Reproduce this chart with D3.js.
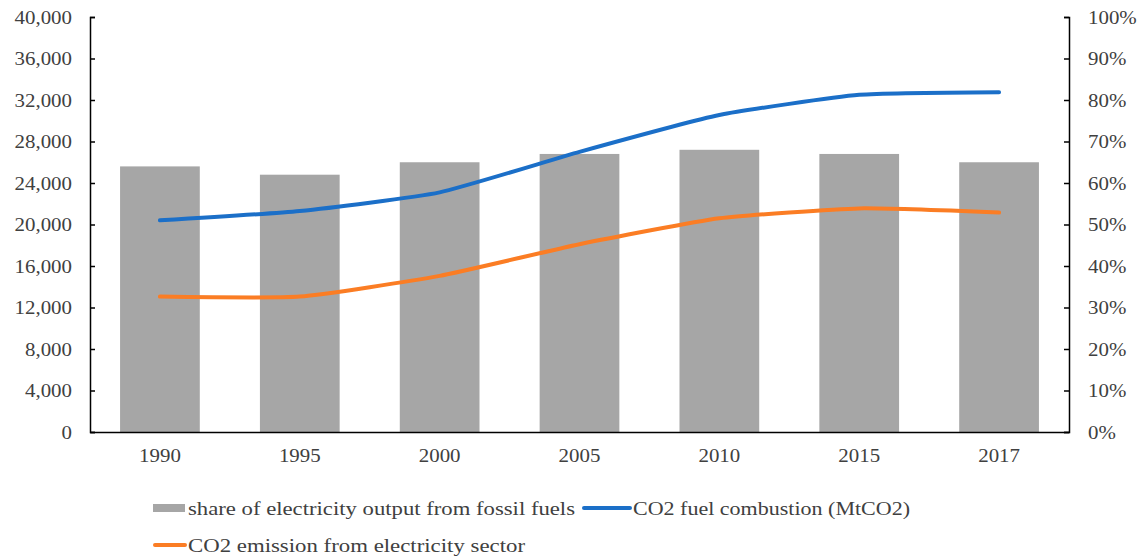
<!DOCTYPE html>
<html>
<head>
<meta charset="utf-8">
<script src="https://cdn.jsdelivr.net/npm/d3@7"></script>
<style>
  body { margin: 0; background: #fff; }
  text { font-family: "Liberation Serif", "Times New Roman", serif; }
</style>
</head>
<body>
<div id="chart"></div>
<script>
// data
var years = ['1990', '1995', '2000', '2005', '2010', '2015', '2017'];
var fossilShare = [0.64, 0.62, 0.65, 0.67, 0.68, 0.67, 0.65];
var co2Fuel = [20400, 21300, 23100, 27000, 30550, 32500, 32750];
var co2Elec = [13050, 13050, 15050, 18100, 20600, 21550, 21150];
var leftTicks = [0, 4000, 8000, 12000, 16000, 20000, 24000, 28000, 32000, 36000, 40000];
var rightTicks = [0, 0.1, 0.2, 0.3, 0.4, 0.5, 0.6, 0.7, 0.8, 0.9, 1];

const width = 1142;
const height = 558;
const plotLeft = 90, plotRight = 1069, plotTop = 17, plotBottom = 432;
const textColor = '#404040';

const svg = d3.select('#chart')
    .append('svg')
    .attr('width', width)
    .attr('height', height);

var x = d3.scaleBand()
    .domain(years)
    .range([plotLeft, plotRight])
    .paddingInner(0.43)
    .paddingOuter(0.215);

var yLeft = d3.scaleLinear()
    .domain([0, 40000])
    .range([plotBottom, plotTop]);

var yRight = d3.scaleLinear()
    .domain([0, 1])
    .range([plotBottom, plotTop]);

// bars (right axis)
svg.selectAll('rect.bar')
    .data(fossilShare)
    .enter()
    .append('rect')
    .attr('class', 'bar')
    .attr('x', function(d, i) { return x(years[i]); })
    .attr('y', function(d) { return yRight(d); })
    .attr('width', x.bandwidth())
    .attr('height', function(d) { return plotBottom - yRight(d); })
    .attr('fill', '#a6a6a6');

// lines (left axis)
var line = d3.line()
    .x(function(d, i) { return x(years[i]) + x.bandwidth() / 2; })
    .y(function(d) { return yLeft(d); })
    .curve(d3.curveCardinal.tension(0.5));

svg.append('path')
    .datum(co2Fuel)
    .attr('d', line)
    .attr('fill', 'none')
    .attr('stroke', '#1b6fc8')
    .attr('stroke-width', 4)
    .attr('stroke-linecap', 'round');

svg.append('path')
    .datum(co2Elec)
    .attr('d', line)
    .attr('fill', 'none')
    .attr('stroke', '#fb7d24')
    .attr('stroke-width', 4)
    .attr('stroke-linecap', 'round');

// axes
var gl = svg.append('g')
    .attr('transform', 'translate(' + plotLeft + ',0)')
    .call(d3.axisLeft(yLeft).tickValues(leftTicks).tickFormat(d3.format(','))
        .tickSize(-5).tickPadding(18));

var gr = svg.append('g')
    .attr('transform', 'translate(' + plotRight + ',0)')
    .call(d3.axisRight(yRight).tickValues(rightTicks).tickFormat(d3.format('.0%'))
        .tickSize(-5).tickPadding(19));

var gb = svg.append('g')
    .attr('transform', 'translate(0,' + plotBottom + ')')
    .call(d3.axisBottom(x).tickSize(0).tickPadding(17));

[gl, gr, gb].forEach(function(g) {
    g.selectAll('path, line').attr('stroke', '#000').attr('stroke-width', 1.5);
    g.selectAll('text')
        .attr('fill', textColor)
        .style('font-size', '19px')
        .style('font-family', '"Liberation Serif", serif')
        .each(function() {
            // the original font is a bit wider than Liberation Serif
            var len = this.getComputedTextLength();
            d3.select(this).attr('textLength', len * 1.1).attr('lengthAdjust', 'spacingAndGlyphs');
        });
});

// legend
var legend = svg.append('g');
legend.append('rect')
    .attr('x', 153).attr('y', 504).attr('width', 32).attr('height', 8)
    .attr('fill', '#a6a6a6');
legend.append('text')
    .attr('x', 188).attr('y', 508).attr('dy', '0.35em')
    .attr('fill', textColor).style('font-size', '19px')
    .attr('textLength', 387).attr('lengthAdjust', 'spacingAndGlyphs')
    .text('share of electricity output from fossil fuels');

legend.append('line')
    .attr('x1', 584).attr('x2', 630).attr('y1', 508).attr('y2', 508)
    .attr('stroke', '#1b6fc8').attr('stroke-width', 4).attr('stroke-linecap', 'round');
legend.append('text')
    .attr('x', 633).attr('y', 508).attr('dy', '0.35em')
    .attr('fill', textColor).style('font-size', '19px')
    .attr('textLength', 277).attr('lengthAdjust', 'spacingAndGlyphs')
    .text('CO2 fuel combustion (MtCO2)');

legend.append('line')
    .attr('x1', 155).attr('x2', 185).attr('y1', 545).attr('y2', 545)
    .attr('stroke', '#fb7d24').attr('stroke-width', 4).attr('stroke-linecap', 'round');
legend.append('text')
    .attr('x', 188).attr('y', 545).attr('dy', '0.35em')
    .attr('fill', textColor).style('font-size', '19px')
    .attr('textLength', 337).attr('lengthAdjust', 'spacingAndGlyphs')
    .text('CO2 emission from electricity sector');
</script>
</body>
</html>
